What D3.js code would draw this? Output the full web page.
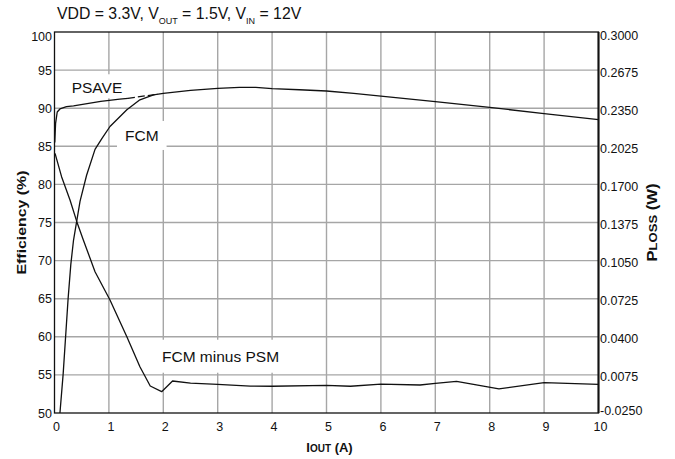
<!DOCTYPE html>
<html><head><meta charset="utf-8">
<script src="https://cdn.jsdelivr.net/npm/d3@7"></script>
<style>body{margin:0;background:#fff}svg{display:block;font-family:"Liberation Sans",Arial,sans-serif}</style>
</head><body>
<svg id="c" width="675" height="459"></svg>
<script>
// ---- data ----
const xTicks = [0,1,2,3,4,5,6,7,8,9,10];
const effTicks = [50,55,60,65,70,75,80,85,90,95,100];
const lossTickLabels = ["-0.0250","0.0075","0.0400","0.0725","0.1050","0.1375","0.1700","0.2025","0.2350","0.2675","0.3000"];

// PSAVE efficiency (%)
const psaveI   = [0.005,0.02,0.05,0.1,0.22,0.35,0.6,0.85,1.2,1.35,1.5,1.7,1.9];
const psaveEff = [85.5, 88.0,89.5,89.9,90.2,90.3,90.6,90.9,91.2,91.3,91.45,91.65,91.85];
const psaveDashFrom = 1.35;

// FCM efficiency (%)
const fcmI   = [0.1,0.16,0.25,0.3,0.35,0.47,0.59,0.745,0.87,1.02,1.33,1.57,1.82,2.0,2.5,3.0,3.4,3.7,4.0,4.5,5.0,5.5,6.0,7.0,8.0,9.0,10.0];
const fcmEff = [50,55.2,65.0,69.5,72.7,77.8,81.2,84.6,86.0,87.6,89.8,91.1,91.75,91.95,92.35,92.6,92.74,92.72,92.56,92.42,92.26,91.95,91.58,90.86,90.1,89.3,88.5];

// FCM minus PSM power loss (W)
const lossI = [0.01,0.13,0.285,0.41,0.53,0.745,1.02,1.33,1.57,1.76,1.97,2.17,2.5,3.0,3.6,4.0,5.0,5.44,6.0,6.72,7.0,7.39,8.17,9.0,10.0];
const lossW = [0.1965,0.1766,0.1567,0.1382,0.1226,0.0955,0.0714,0.0401,0.0145,-0.002,-0.0068,0.0023,0.0005,-0.0005,-0.002,-0.0022,-0.0014,-0.0022,-0.0003,-0.0011,0.0003,0.002,-0.0045,0.0009,-0.0005];

// ---- scales ----
const svg = d3.select("#c");
const x = d3.scaleLinear().domain([0,10]).range([54.5,598.5]);
const y = d3.scaleLinear().domain([50,100]).range([413,32]);
const yR = d3.scaleLinear().domain([-0.025,0.3]).range([413,32]);

// grid
const g = svg.append("g");
g.selectAll(".vg").data(xTicks.slice(1,-1)).enter().append("line")
 .attr("x1",d=>x(d)).attr("x2",d=>x(d)).attr("y1",y(100)).attr("y2",y(50))
 .attr("stroke","#a6a6a6").attr("stroke-width",1.4);
g.selectAll(".hg").data(effTicks.slice(1,-1)).enter().append("line")
 .attr("x1",x(0)).attr("x2",x(10)).attr("y1",d=>y(d)).attr("y2",d=>y(d))
 .attr("stroke","#a6a6a6").attr("stroke-width",1.4);

const boxLayer = svg.append("g");

// frame
svg.append("rect").attr("x",x(0)).attr("y",y(100)).attr("width",x(10)-x(0)).attr("height",y(50)-y(100))
 .attr("fill","none").attr("stroke","#111").attr("stroke-width",1.3);
svg.append("line").attr("x1",x(10)).attr("x2",x(10)).attr("y1",y(100)).attr("y2",y(50)).attr("stroke","#111").attr("stroke-width",2);

// curves
const lineE = d3.line().x(d=>x(d[0])).y(d=>y(d[1]));
const lineW = d3.line().x(d=>x(d[0])).y(d=>yR(d[1]));
const psave = psaveI.map((v,i)=>[v,psaveEff[i]]);
const curves = svg.append("g").attr("fill","none").attr("stroke","#111").attr("stroke-width",1.3).attr("stroke-linejoin","round");
curves.append("path").attr("d",lineE(psave.filter(d=>d[0]<=psaveDashFrom)));
curves.append("path").attr("d",lineE(psave.filter(d=>d[0]>=psaveDashFrom))).attr("stroke-dasharray","7,3");
curves.append("path").attr("d",lineE(fcmI.map((v,i)=>[v,fcmEff[i]])));
curves.append("path").attr("d",lineW(lossI.map((v,i)=>[v,lossW[i]])));

// in-plot labels with white boxes (boxes under the curves)
function label(txt, xi, ye, padX, padT, padB, fs){
  const t = svg.append("text").attr("x",x(xi)).attr("y",y(ye)).attr("font-size",fs).attr("fill","#111").text(txt);
  const b = t.node().getBBox();
  boxLayer.append("rect").attr("x",b.x-padX).attr("y",b.y-padT).attr("width",b.width+2*padX).attr("height",b.height+padT+padB).attr("fill","#fff");
  return t;
}
label("PSAVE",0.316,91.96,6,5,2,15.5);
label("FCM",1.296,85.7,8,6,6,15.5);
label("FCM minus PSM",1.976,56.73,4,8,8,15.5);

// tick labels
svg.append("g").selectAll("text").data(xTicks).enter().append("text")
 .attr("x",d=>x(d)+2).attr("y",431).attr("text-anchor","middle").attr("font-size",12.5).attr("fill","#111").text(d=>d);
svg.append("g").selectAll("text").data(effTicks).enter().append("text")
 .attr("x",x(0)-2.5).attr("y",d=>y(d)+(d===100?8.5:4.5)).attr("text-anchor","end").attr("font-size",12.5).attr("fill","#111").text(d=>d);
const lossTickVals = lossTickLabels.map(Number);
svg.append("g").selectAll("text").data(lossTickLabels).enter().append("text")
 .attr("x",x(10)+1.5).attr("y",(d,i)=>yR(lossTickVals[i])+(i===lossTickLabels.length-1?8:(i===0?1.5:6.5))).attr("font-size",12.5).attr("fill","#111").text(d=>d);

// title
const tt = svg.append("text").attr("x",57).attr("y",18.5).attr("font-size",15.8).attr("fill","#111");
tt.append("tspan").text("VDD = 3.3V, V");
tt.append("tspan").attr("font-size",9).attr("dy",5).text("OUT");
tt.append("tspan").attr("dy",-5).text(" = 1.5V, V");
tt.append("tspan").attr("font-size",9).attr("dy",5).text("IN");
tt.append("tspan").attr("dy",-5).text(" = 12V");

// axis titles
svg.append("text").attr("transform",`translate(25.5,${(y(50)+y(100))/2}) rotate(-90)`).attr("text-anchor","middle")
 .attr("font-size",13.5).attr("font-weight","bold").attr("fill","#111")
 .attr("textLength",104).attr("lengthAdjust","spacingAndGlyphs").text("Efficiency (%)");
const rt = svg.append("text").attr("transform",`translate(657,${(y(50)+y(100))/2}) rotate(-90)`).attr("text-anchor","middle")
 .attr("font-weight","bold").attr("fill","#111").attr("textLength",78).attr("lengthAdjust","spacingAndGlyphs");
rt.append("tspan").attr("font-size",14).text("P");
rt.append("tspan").attr("font-size",11).text("LOSS");
rt.append("tspan").attr("font-size",14).text(" (W)");
const xt = svg.append("text").attr("x",(x(0)+x(10))/2+3).attr("y",452).attr("text-anchor","middle").attr("font-weight","bold").attr("fill","#111");
xt.append("tspan").attr("font-size",13).text("I");
xt.append("tspan").attr("font-size",10).text("OUT");
xt.append("tspan").attr("font-size",13).text(" (A)");
</script>
</body></html>
